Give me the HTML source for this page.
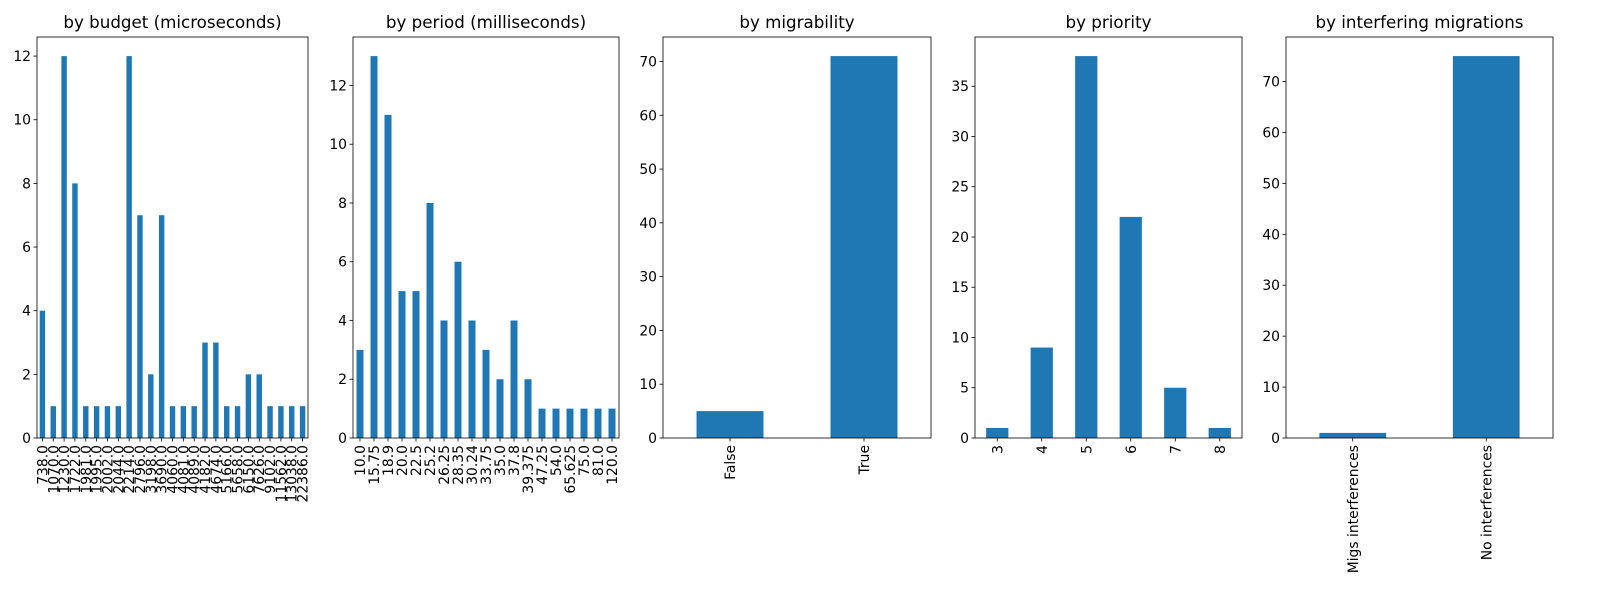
<!DOCTYPE html>
<html><head><meta charset="utf-8"><style>
body{margin:0;background:#fff;}
svg{font-family:"DejaVu Sans","Liberation Sans",sans-serif;}
</style></head><body>
<svg id="c" width="1600" height="600" xmlns="http://www.w3.org/2000/svg"></svg>
<script>
const budgetCats=["738.0","1070.0","1230.0","1722.0","1981.0","1995.0","2002.0","2044.0","2214.0","2796.0","3198.0","3690.0","4060.0","4081.0","4089.0","4182.0","4674.0","5166.0","5658.0","6150.0","7626.0","9102.0","11562.0","13038.0","22386.0"];
const budgetVals=[4,1,12,8,1,1,1,1,12,7,2,7,1,1,1,3,3,1,1,2,2,1,1,1,1];
const budgetTicks=[0,2,4,6,8,10,12];
const periodCats=["10.0","15.75","18.9","20.0","22.5","25.2","26.25","28.35","30.24","33.75","35.0","37.8","39.375","47.25","54.0","65.625","75.0","81.0","120.0"];
const periodVals=[3,13,11,5,5,8,4,6,4,3,2,4,2,1,1,1,1,1,1];
const periodTicks=[0,2,4,6,8,10,12];
const migCats=["False","True"];
const migVals=[5,71];
const migTicks=[0,10,20,30,40,50,60,70];
const prioCats=["3","4","5","6","7","8"];
const prioVals=[1,9,38,22,5,1];
const prioTicks=[0,5,10,15,20,25,30,35];
const intCats=["Migs interferences","No interferences"];
const intVals=[1,75];
const intTicks=[0,10,20,30,40,50,60,70];

const svg=document.getElementById('c');
const NS="http://www.w3.org/2000/svg";
function mk(tag,attrs,parent){const e=document.createElementNS(NS,tag);for(const k in attrs)e.setAttribute(k,attrs[k]);(parent||svg).appendChild(e);return e;}
const panels=[
 {name:"budget",title:"by budget (microseconds)",x0:37,x1:308,cats:budgetCats,vals:budgetVals,ticks:budgetTicks},
 {name:"period",title:"by period (milliseconds)",x0:353,x1:619,cats:periodCats,vals:periodVals,ticks:periodTicks},
 {name:"migrability",title:"by migrability",x0:663,x1:931,cats:migCats,vals:migVals,ticks:migTicks},
 {name:"priority",title:"by priority",x0:975,x1:1242,cats:prioCats,vals:prioVals,ticks:prioTicks},
 {name:"interference",title:"by interfering migrations",x0:1286,x1:1553,cats:intCats,vals:intVals,ticks:intTicks}
];
const yTop=37,yBot=438;
panels.forEach(p=>{
 const g=mk('g',{});
 
 
 const n=p.cats.length, ymax=Math.max(...p.vals)*1.05;
 const xs=i=>p.x0+(i+0.5)*(p.x1-p.x0)/n;
 const ys=v=>yBot-v/ymax*(yBot-yTop);
 const bw=0.5*(p.x1-p.x0)/n;
 p.vals.forEach((v,i)=>{
  const r=mk('rect',{x:xs(i)-bw/2,y:ys(v),width:bw,height:yBot-ys(v),fill:'#1f77b4'},g);
  
  
 });
 p.ticks.forEach(t=>{
  const y=ys(t);
  mk('line',{x1:p.x0-3.5,x2:p.x0,y1:y,y2:y,stroke:'#000','stroke-width':0.8},g);
  const tx=mk('text',{x:p.x0-6,y:y+5,'font-size':13.9,'text-anchor':'end'},g);
  tx.textContent=t;
  
  
 });
 p.cats.forEach((c,i)=>{
  const x=xs(i);
  mk('line',{x1:x,x2:x,y1:yBot,y2:yBot+3.5,stroke:'#000','stroke-width':0.8},g);
  const tx=mk('text',{x:0,y:0,'font-size':13.9,'text-anchor':'end',transform:`translate(${x+5},${yBot+7}) rotate(-90)`},g);
  tx.textContent=c;
  
  
 });
 mk('rect',{x:p.x0,y:yTop,width:p.x1-p.x0,height:yBot-yTop,fill:'none',stroke:'#000','stroke-width':0.8},g);
 const tt=mk('text',{x:(p.x0+p.x1)/2,y:yTop-9,'font-size':16.7,'text-anchor':'middle'},g);
 tt.textContent=p.title;
 
 
});
</script>
</body></html>
